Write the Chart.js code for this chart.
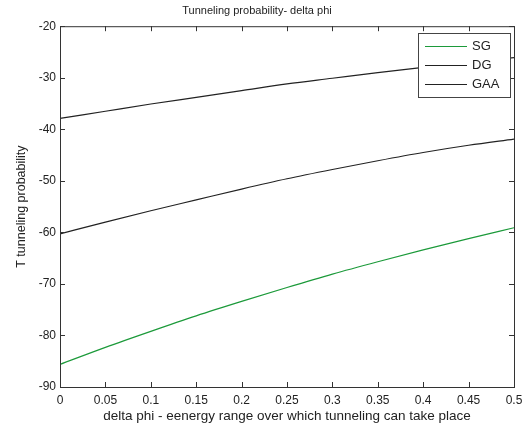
<!DOCTYPE html>
<html>
<head>
<meta charset="utf-8">
<script src="https://cdn.jsdelivr.net/npm/chart.js@4"></script>
<style>
  html, body { margin: 0; padding: 0; background: #fff; }
  #wrap { width: 531px; height: 430px; }
</style>
</head>
<body>
<div id="wrap"><canvas id="chart" width="531" height="430"></canvas></div>
<script>
// delta phi values (x axis)
var phi = [0, 0.05, 0.1, 0.15, 0.2, 0.25, 0.3, 0.35, 0.4, 0.45, 0.5];
// tunneling probability for each device
var sg  = [-85.6, -82.3, -79.2, -76.2, -73.4, -70.7, -68.1, -65.7, -63.4, -61.2, -59.1];
var dg  = [-37.9, -36.5, -35.1, -33.8, -32.5, -31.2, -30.1, -29.0, -28.0, -27.0, -26.1];
var gaa = [-60.3, -58.0, -55.8, -53.7, -51.6, -49.6, -47.8, -46.1, -44.5, -43.1, -41.9];
var names = ["SG", "DG", "GAA"];
var colors = ["#1c9a3a", "#222222", "#222222"];

var FONT = "'Liberation Sans', Arial, Helvetica, sans-serif";

function pts(ys) {
  return ys.map(function (y, i) { return { x: phi[i], y: y }; });
}

// box round the plot, inward ticks on all four sides, and the legend box
var matlabBox = {
  id: 'matlabBox',
  afterDraw: function (chart) {
    var ctx = chart.ctx, a = chart.chartArea;
    var xs = chart.scales.x, ys = chart.scales.y;
    var tl = 5;
    ctx.save();
    ctx.strokeStyle = '#333';
    ctx.lineWidth = 1;
    ctx.strokeRect(a.left + 0.5, a.top + 0.5, a.right - a.left, a.bottom - a.top);
    ctx.beginPath();
    xs.ticks.forEach(function (t) {
      var px = Math.round(xs.getPixelForValue(t.value)) + 0.5;
      ctx.moveTo(px, a.bottom); ctx.lineTo(px, a.bottom - tl);
      ctx.moveTo(px, a.top); ctx.lineTo(px, a.top + tl);
    });
    ys.ticks.forEach(function (t) {
      var py = Math.round(ys.getPixelForValue(t.value)) + 0.5;
      ctx.moveTo(a.left, py); ctx.lineTo(a.left + tl, py);
      ctx.moveTo(a.right, py); ctx.lineTo(a.right - tl, py);
    });
    ctx.stroke();

    // legend
    var lx = 418, ly = 33, lw = 92, lh = 64;
    ctx.fillStyle = '#fff';
    ctx.fillRect(lx, ly, lw, lh);
    ctx.strokeStyle = '#444';
    ctx.strokeRect(lx + 0.5, ly + 0.5, lw, lh);
    ctx.font = '13px ' + FONT;
    ctx.textBaseline = 'middle';
    ctx.textAlign = 'left';
    chart.data.datasets.forEach(function (ds, i) {
      var yy = ly + 13 + i * 19;
      ctx.strokeStyle = ds.borderColor;
      ctx.beginPath();
      ctx.moveTo(lx + 7, yy + 0.5); ctx.lineTo(lx + 49, yy + 0.5);
      ctx.stroke();
      ctx.fillStyle = '#222';
      ctx.fillText(ds.label, lx + 54, yy);
    });
    ctx.restore();
  }
};

var ctx = document.getElementById('chart');
var chart = new Chart(ctx, {
  type: 'line',
  data: {
    datasets: [
      { label: names[0], data: pts(sg),  borderColor: colors[0] },
      { label: names[1], data: pts(dg),  borderColor: colors[1] },
      { label: names[2], data: pts(gaa), borderColor: colors[2] }
    ]
  },
  options: {
    responsive: false,
    animation: false,
    layout: { padding: { right: 17, left: 0, bottom: 0 } },
    elements: {
      point: { radius: 0 },
      line: { borderWidth: 1.2, tension: 0.4, cubicInterpolationMode: 'monotone' }
    },
    plugins: {
      legend: { display: false },
      tooltip: { enabled: false },
      title: {
        display: true,
        text: 'Tunneling probability- delta phi',
        color: '#222',
        font: { family: FONT, size: 11, weight: 'normal' },
        padding: { top: 4, bottom: 9 }
      }
    },
    scales: {
      x: {
        type: 'linear',
        min: 0, max: 0.5,
        grid: { display: false, drawTicks: false },
        border: { display: false },
        ticks: {
          stepSize: 0.05,
          padding: 6,
          color: '#222',
          font: { family: FONT, size: 12 },
          maxRotation: 0,
          callback: function (v) { return String(Number(v.toFixed(2))); }
        },
        title: {
          display: true,
          text: 'delta phi - eenergy range over which tunneling can take place',
          color: '#222',
          font: { family: FONT, size: 13.5 },
          padding: { top: 2, bottom: 6 }
        },
        afterFit: function (s) { s.height = 43; }
      },
      y: {
        min: -90, max: -20,
        grid: { display: false, drawTicks: false },
        border: { display: false },
        ticks: {
          stepSize: 10,
          padding: 4,
          color: '#222',
          font: { family: FONT, size: 12 }
        },
        title: {
          display: true,
          text: 'T tunneling probability',
          color: '#222',
          font: { family: FONT, size: 12.5 },
          padding: { top: 14, bottom: 0 }
        },
        afterFit: function (s) { s.width = 60; }
      }
    }
  },
  plugins: [matlabBox]
});
</script>
</body>
</html>
